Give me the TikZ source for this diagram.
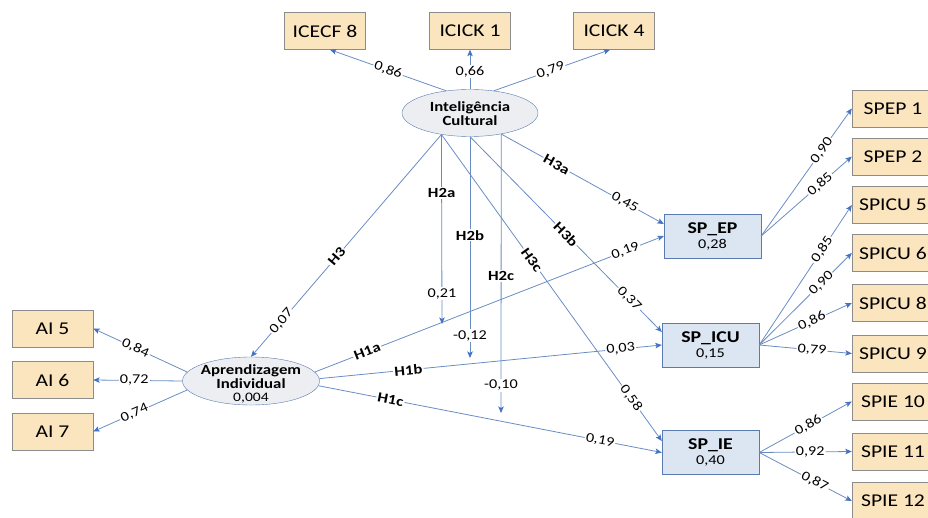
\documentclass[tikz,border=0pt]{standalone}
\usepackage{fontspec}
\setmainfont{Carlito}[FakeStretch=1.2]
\usetikzlibrary{arrows.meta,shapes.geometric}
\definecolor{beige}{HTML}{FBE5BF}
\definecolor{beigeline}{HTML}{8C8C8C}
\definecolor{bluebox}{HTML}{DCE6F2}
\definecolor{blueline}{HTML}{5A7BB0}
\definecolor{ellfill}{HTML}{ECEEF2}
\definecolor{conn}{HTML}{6A8CC4}
\definecolor{tipc}{HTML}{4472C4}
\begin{document}
\begin{tikzpicture}[x=1pt,y=-1pt,
 ind/.style={draw=beigeline, fill=beige, minimum width=81pt, minimum height=37pt, inner sep=0pt, font=\fontsize{18}{20}\selectfont},
 rind/.style={ind, minimum width=82pt},
 lat/.style={draw=blueline, fill=bluebox, minimum width=97pt, minimum height=44pt, inner sep=0pt, align=center, font=\fontsize{13.5}{15}\selectfont},
 ell/.style={ellipse, draw=blueline, fill=ellfill, inner sep=0pt},
 ltxt/.style={align=center, inner sep=0pt, font=\bfseries\fontsize{14}{14}\selectfont},
 arr/.style={draw=conn, line width=0.8pt, -{Stealth[length=6.5pt,width=5.5pt,inset=1.5pt,color=tipc]}},
 num/.style={fill=white, inner sep=1.2pt, font=\fontsize{13.5}{15}\selectfont},
 hyp/.style={fill=white, inner sep=1.2pt, font=\bfseries\fontsize{14}{15}\selectfont},
]
\useasboundingbox (0,0) rectangle (928,518);
\clip (0,0) rectangle (928,518);

% indicators top
\node[ind] (icecf8) at (325,31) {ICECF 8};
\node[ind] (icick1) at (470,31) {ICICK 1};
\node[ind] (icick4) at (614,31) {ICICK 4};
% left
\node[ind] (ai5) at (52.5,328.5) {AI 5};
\node[ind] (ai6) at (52.5,380) {AI 6};
\node[ind] (ai7) at (52.5,431.5) {AI 7};
% right
\node[rind] (spep1) at (893,108.5) {SPEP 1};
\node[rind] (spep2) at (893,156.5) {SPEP 2};
\node[rind] (spicu5) at (893,205) {SPICU 5};
\node[rind] (spicu6) at (893,253) {SPICU 6};
\node[rind] (spicu8) at (893,303) {SPICU 8};
\node[rind] (spicu9) at (893,353.5) {SPICU 9};
\node[rind] (spie10) at (893,401.5) {SPIE 10};
\node[rind] (spie11) at (893,451.5) {SPIE 11};
\node[rind] (spie12) at (893,501) {SPIE 12};

% latent ellipses
\node[ell, minimum width=136pt, minimum height=47pt] (ic) at (470,113) {};
\node[ltxt] (ictext) at (470,114) {Inteligência\\Cultural};
\node[ell, minimum width=137pt, minimum height=48pt] (ai) at (251,381) {};
\node[ltxt] (aitext) at (251,384) {Aprendizagem\\Individual\\[-1pt]{\mdseries\fontsize{13}{13}\selectfont 0,004}};

% latent boxes
\node[lat] (spep) at (712.5,236) {{\bfseries\fontsize{16.5}{16}\selectfont SP\_EP}\\0,28};
\node[lat] (spicu) at (710.5,345) {{\bfseries\fontsize{16.5}{16}\selectfont SP\_ICU}\\0,15};
\node[lat] (spie) at (710.5,452.5) {{\bfseries\fontsize{16.5}{16}\selectfont SP\_IE}\\0,40};

% moderation tips
\coordinate (t2a) at (442,324);
\coordinate (t2b) at (470,358);
\coordinate (t2c) at (501,413);

% IC measurement
\draw[arr] (ic.137) -- node[num, sloped, pos=0.5] {0,86} ([xshift=5pt]icecf8.south);
\draw[arr] (ic.north) -- node[num, pos=0.45] {0,66} (icick1.south);
\draw[arr] (ic.43) -- node[num, sloped, pos=0.49] {0,79} ([xshift=-4pt]icick4.south);

% AI measurement
\draw[arr] (ai.172) -- node[num, sloped, pos=0.55] {0,84} (ai5.east);
\draw[arr] (ai.west) -- node[num, pos=0.54] {0,72} (ai6.east);
\draw[arr] (ai.188) -- node[num, sloped, pos=0.56] {0,74} (ai7.east);

% SP_EP measurement
\draw[arr] (spep.east) -- node[num, sloped, pos=0.67] {0,90} (spep1.west);
\draw[arr] (spep.east) -- node[num, sloped, pos=0.65] {0,85} (spep2.west);
% SP_ICU measurement
\draw[arr] (spicu.east) -- node[num, sloped, pos=0.68] {0,85} (spicu5.west);
\draw[arr] (spicu.east) -- node[num, sloped, pos=0.67] {0,90} (spicu6.west);
\draw[arr] (spicu.east) -- node[num, sloped, pos=0.57] {0,86} (spicu8.west);
\draw[arr] (spicu.east) -- node[num, sloped, pos=0.57] {0,79} (spicu9.west);
% SP_IE measurement
\draw[arr] (spie.east) -- node[num, sloped, pos=0.53] {0,86} (spie10.west);
\draw[arr] (spie.east) -- node[num, sloped, pos=0.55] {0,92} (spie11.west);
\draw[arr] (spie.east) -- node[num, sloped, pos=0.6] {0,87} (spie12.west);

% structural paths
\draw[arr] (ai.8) -- node[hyp, sloped, pos=0.15] {H1a} node[num, sloped, pos=0.89] {0,19} (spep.west);
\draw[arr] (ai.2) -- node[hyp, sloped, pos=0.26] {H1b} node[num, sloped, pos=0.88] {0,03} (spicu.west);
\draw[arr] (ai.-4) -- node[hyp, sloped, pos=0.21] {H1c} node[num, sloped, pos=0.82] {0,19} (spie.west);

\draw[arr] (ic.217.5) -- node[hyp, sloped, pos=0.55] {H3} node[num, sloped, pos=0.84] {0,07} (ai.north);
\draw[arr] (ic.217.5) -- node[hyp, pos=0.31] {H2a} node[num, pos=0.84] {0,21} (t2a);
\draw[arr] (ic.south) -- node[hyp, pos=0.445] {H2b} node[num, pos=0.9] {-0,12} (t2b);
\draw[arr] (ic.-34) -- node[hyp, pos=0.51] {H2c} node[num, pos=0.9] {-0,10} (t2c);

\draw[arr] (ic.-34) -- node[hyp, sloped, pos=0.34] {H3a} node[num, sloped, pos=0.76] {0,45} ([yshift=12pt]spep.west);
\draw[arr] (ic.south) -- node[hyp, sloped, pos=0.5] {H3b} node[num, sloped, pos=0.83] {0,37} ([yshift=13pt]spicu.west);
\draw[arr] (ic.217.5) -- node[hyp, sloped, pos=0.41] {H3c} node[num, sloped, pos=0.86] {0,58} ([yshift=11.5pt]spie.west);
\end{tikzpicture}
\end{document}
